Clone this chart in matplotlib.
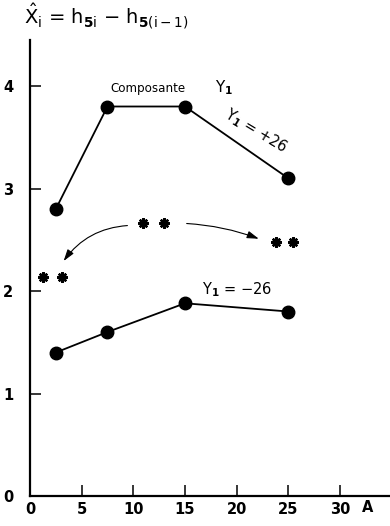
import matplotlib
matplotlib.use("Agg")
import matplotlib.pyplot as plt

# Mean component values for the two levels of Y1
a_values = [2.5, 7.5, 15, 25]
upper_y = [2.8, 3.8, 3.8, 3.1]     # Y1 = +26
lower_y = [1.4, 1.6, 1.88, 1.8]    # Y1 = -26

# Pairs of asterisks marking significance
star_groups = {
    "top": ([10.9, 13.0], [2.66, 2.66]),
    "left": ([1.3, 3.1], [2.14, 2.14]),
    "right": ([23.8, 25.5], [2.48, 2.48]),
}

x_ticks = [0, 5, 10, 15, 20, 25, 30]
y_ticks = [0, 1, 2, 3, 4]

plt.rcParams["mathtext.fontset"] = "dejavusans"

W, H = 390, 526
fig = plt.figure(figsize=(W / 100, H / 100), dpi=100)
ax = fig.add_axes([30 / W, 30 / H, 360 / W, 456 / H])

ax.set_xlim(0, 360 / 10.33)
ax.set_ylim(0, 456 / 102.5)

for s in ("top", "right"):
    ax.spines[s].set_visible(False)
for s in ("left", "bottom"):
    ax.spines[s].set_linewidth(1.6)

ax.set_xticks(x_ticks)
ax.set_yticks(y_ticks)
ax.set_xticklabels([str(v) for v in x_ticks], fontsize=10.5, fontweight="bold")
ax.set_yticklabels([str(v) for v in y_ticks], fontsize=10.5, fontweight="bold")
ax.tick_params(axis="y", direction="in", length=8, width=1.1, pad=12)
ax.tick_params(axis="x", direction="in", length=8, width=1.1, pad=4)

line_kw = dict(color="black", lw=1.3, marker="o", ms=9)
ax.plot(a_values, upper_y, **line_kw)
ax.plot(a_values, lower_y, **line_kw)

for xs, ys in star_groups.values():
    ax.plot(xs, ys, ls="none", marker=(8, 2, 0), ms=7.5, mew=1.7, color="black")

arrow_kw = dict(arrowstyle="-|>,head_length=0.7,head_width=0.22", color="black", lw=0.8)
ax.annotate("", xy=(3.1, 2.27), xytext=(9.7, 2.64),
            arrowprops=dict(connectionstyle="arc3,rad=0.25", **arrow_kw))
ax.annotate("", xy=(22.4, 2.50), xytext=(14.9, 2.66),
            arrowprops=dict(connectionstyle="arc3,rad=-0.08", **arrow_kw))

ax.text(7.8, 3.98, "Composante", fontsize=8.6, va="center", ha="left")
ax.text(17.9, 3.98, r"Y$_{\mathbf{1}}$", fontsize=11, va="center", ha="left")
ax.text(21.9, 3.56, r"Y$_{\mathbf{1}}$ = +26", fontsize=10.5, rotation=-31,
        rotation_mode="anchor", ha="center", va="center")
ax.text(20.0, 2.01, r"Y$_{\mathbf{1}}$ = −26", fontsize=10.5, ha="center", va="center")

ax.text(32.7, -0.11, "A", fontsize=10.5, fontweight="bold", ha="center", va="center")

fig.text(24 / W, 1 - 16 / H,
         r"$\hat{\mathrm{X}}_{\mathrm{i}}$ = h$_{\mathbf{5}\mathrm{i}}$ − h$_{\mathbf{5}(\mathrm{i}-1)}$",
         fontsize=14, ha="left", va="center")

fig.savefig("out.png", dpi=100)
